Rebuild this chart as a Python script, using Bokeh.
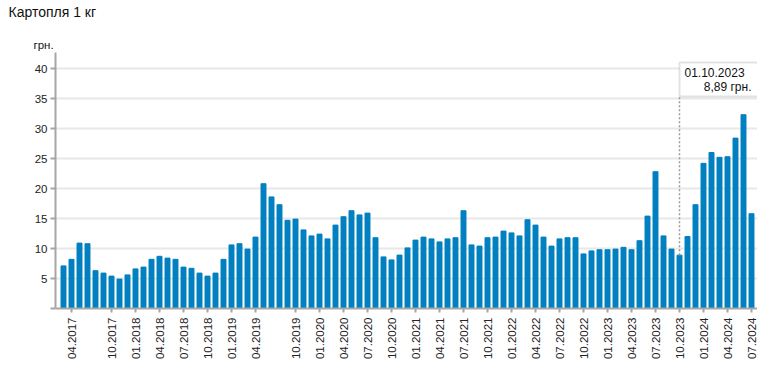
import math
from bokeh.plotting import figure
from bokeh.models import FixedTicker, Label, BoxAnnotation, Range1d, Title
from bokeh.embed import file_html
from bokeh.resources import INLINE

title_text = "Картопля 1 кг"
unit_text = "грн."
highlight = "10.2023"

months = [
    "03.2017", "04.2017", "05.2017", "06.2017", "08.2017", "09.2017", "10.2017", "11.2017", "12.2017",
    "01.2018", "02.2018", "03.2018", "04.2018", "05.2018", "06.2018", "07.2018", "08.2018", "09.2018",
    "10.2018", "11.2018", "12.2018",
    "01.2019", "02.2019", "03.2019", "04.2019", "05.2019", "06.2019", "08.2019", "09.2019", "10.2019",
    "11.2019", "12.2019",
    "01.2020", "02.2020", "03.2020", "04.2020", "05.2020", "06.2020", "07.2020", "08.2020", "09.2020",
    "10.2020", "11.2020", "12.2020",
    "01.2021", "02.2021", "03.2021", "04.2021", "05.2021", "06.2021", "07.2021", "08.2021", "09.2021",
    "10.2021", "11.2021", "12.2021",
    "01.2022", "02.2022", "03.2022", "04.2022", "05.2022", "06.2022", "07.2022", "08.2022", "09.2022",
    "10.2022", "11.2022", "12.2022",
    "01.2023", "02.2023", "03.2023", "04.2023", "05.2023", "06.2023", "07.2023", "08.2023", "09.2023",
    "10.2023", "11.2023", "12.2023",
    "01.2024", "02.2024", "03.2024", "04.2024", "05.2024", "06.2024", "07.2024",
]

prices = [
    7.1, 8.2, 10.9, 10.8, 6.3, 5.9, 5.4, 4.9, 5.6,
    6.6, 6.9, 8.2, 8.7, 8.4, 8.2, 6.9, 6.7, 5.9,
    5.4, 5.9, 8.2,
    10.6, 10.8, 9.9, 11.9, 20.8, 18.6, 17.3, 14.7, 14.9,
    13.1, 12.1,
    12.4, 11.6, 13.9, 15.3, 16.3, 15.6, 15.9, 11.8, 8.6,
    8.1, 8.9, 10.1,
    11.4, 11.9, 11.6, 11.1, 11.6, 11.8, 16.3, 10.6, 10.4,
    11.8, 11.9, 12.9,
    12.6, 12.1, 14.8, 13.9, 11.9, 10.4, 11.6, 11.8, 11.8,
    9.1, 9.6, 9.8,
    9.8, 9.9, 10.2, 9.8, 11.3, 15.4, 22.8, 12.1, 9.9,
    8.89, 12.0, 17.3,
    24.2, 26.0, 25.2, 25.3, 28.4, 32.3, 15.8,
]

y_ticks = [0, 5, 10, 15, 20, 25, 30, 35, 40]

FONT = "Liberation Sans"
AXIS_COLOR = "#a6a6a6"
BAR_COLOR = "#0080c0"

xs = list(range(len(months)))
x_end = len(months) - 0.25

p = figure(width=757, height=382, output_backend="svg", toolbar_location=None,
           x_range=Range1d(-1, x_end), y_range=Range1d(0, 42.67),
           min_border_left=55, min_border_right=0, min_border_top=52, min_border_bottom=74)
p.outline_line_color = None
p.background_fill_color = "white"

# title and unit (as titles above the frame)
p.title.text = title_text
p.title.text_font = FONT
p.title.text_font_size = "14px"
p.title.text_font_style = "normal"
p.title.text_color = "#111111"
p.title.align = "left"
p.title.offset = -47
p.title.standoff = 2
# unit label, closest to the frame
p.add_layout(Title(text=unit_text, text_font=FONT, text_font_size="11.5px",
                   text_font_style="normal", text_color="#111111",
                   align="left", offset=-22, standoff=3), "above")
# invisible spacer between unit label and main title
p.add_layout(Title(text=" ", text_font=FONT, text_font_size="1px", standoff=12), "above")

p.vbar(x=xs, top=prices, width=0.62, color=BAR_COLOR)

# x axis
xt = [i for i, m in enumerate(months) if m[:2] in ("01", "04", "07", "10")]
p.xaxis.ticker = FixedTicker(ticks=xt)
p.xaxis.major_label_overrides = {i: months[i] for i in xt}
p.xaxis.major_label_orientation = math.pi / 2
p.xaxis.major_label_text_font = FONT
p.xaxis.major_label_text_font_size = "11.5px"
p.xaxis.major_label_text_color = "#222222"
p.xaxis.major_label_standoff = 5
p.xaxis.major_tick_in = 0
p.xaxis.major_tick_out = 4
p.xaxis.minor_tick_line_color = None
p.xaxis.axis_line_color = AXIS_COLOR
p.xaxis.axis_line_width = 2
p.xaxis.major_tick_line_color = AXIS_COLOR
p.xaxis.major_tick_line_width = 2
p.xgrid.visible = False

# y axis
p.yaxis.ticker = FixedTicker(ticks=y_ticks)
p.yaxis.major_label_overrides = {0: ""}
p.yaxis.major_label_text_font = FONT
p.yaxis.major_label_text_font_size = "11.5px"
p.yaxis.major_label_text_color = "#222222"
p.yaxis.major_label_standoff = 3
p.yaxis.major_tick_in = 0
p.yaxis.major_tick_out = 5
p.yaxis.minor_tick_line_color = None
p.yaxis.axis_line_color = AXIS_COLOR
p.yaxis.axis_line_width = 2
p.yaxis.major_tick_line_color = AXIS_COLOR
p.yaxis.major_tick_line_width = 2
p.ygrid.grid_line_color = "#e8e8e8"
p.ygrid.grid_line_width = 2

# tooltip for the highlighted month
hi = months.index(highlight)
box_top = 41.0
box_bottom = 35.33
p.segment(x0=[hi], y0=[prices[hi]], x1=[hi], y1=[box_bottom],
          line_color="#999999", line_width=1.5, line_dash="2 2")
p.add_layout(BoxAnnotation(left=hi, right=x_end + 2, top=box_top, bottom=box_bottom,
                           fill_color="white", fill_alpha=1.0,
                           line_color="#a0a0a0", line_width=2))
p.add_layout(Label(x=hi, y=box_top, x_offset=5, y_offset=-10, text="01." + highlight,
                   text_font=FONT, text_font_size="12px", text_color="#111111",
                   text_baseline="middle", text_align="left"))
val_text = f"{prices[hi]:.2f}".replace(".", ",") + " " + unit_text
p.add_layout(Label(x=x_end, y=box_top, x_offset=-6, y_offset=-24, text=val_text,
                   text_font=FONT, text_font_size="12px", text_color="#111111",
                   text_baseline="middle", text_align="right"))

open("out.html", "w").write(file_html(p, INLINE))
